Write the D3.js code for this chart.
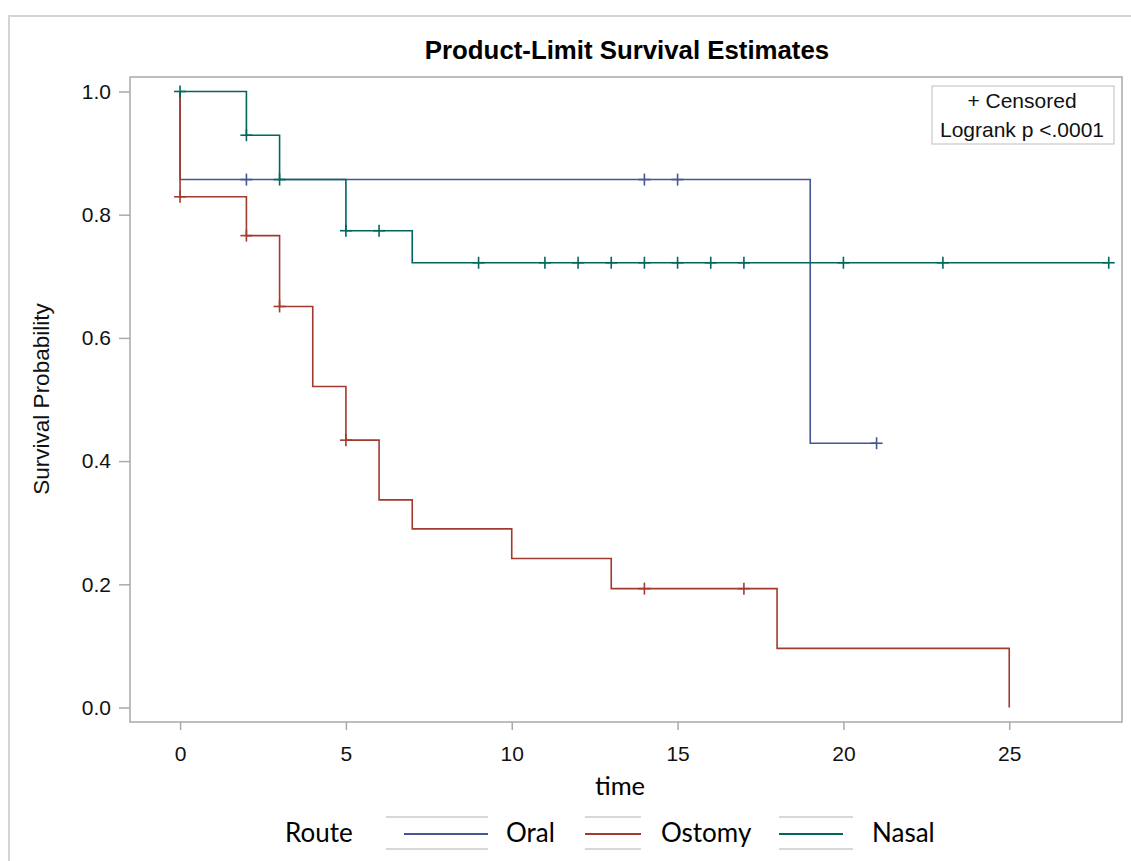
<!DOCTYPE html>
<html>
<head>
<meta charset="utf-8">
<script src="https://cdn.jsdelivr.net/npm/d3@7"></script>
<style>
  body { margin: 0; background: #fff; }
  svg { display: block; }
</style>
</head>
<body>
<div id="km_plot"></div>
<script>
// Kaplan-Meier step data
var groups = ["Oral", "Ostomy", "Nasal"];
var group_colours = ["#445694", "#A23A2E", "#01665E"];

var oral_time = [0, 0, 19, 21];
var oral_surv = [1.0, 0.857, 0.429, 0.429];
var oral_censor = [2, 14, 15, 21];

var ostomy_time = [0, 0, 2, 3, 4, 5, 6, 7, 10, 13, 18, 25];
var ostomy_surv = [1.0, 0.829, 0.766, 0.651, 0.521, 0.434, 0.337, 0.290, 0.242, 0.193, 0.096, 0.0];
var ostomy_censor = [0, 2, 3, 5, 14, 17];

var nasal_time = [0, 2, 3, 5, 7, 28];
var nasal_surv = [1.0, 0.929, 0.857, 0.774, 0.722, 0.722];
var nasal_censor = [0, 2, 3, 5, 6, 9, 11, 12, 13, 14, 15, 16, 17, 20, 23, 28];

var x_ticks = [0, 5, 10, 15, 20, 25];
var y_ticks = [0.0, 0.2, 0.4, 0.6, 0.8, 1.0];

var title_text = "Product-Limit Survival Estimates";
var inset_lines = ["+ Censored", "Logrank p <.0001"];

function createVis() {
	var series = [
		{name: groups[0], colour: group_colours[0], time: oral_time, surv: oral_surv, censor: oral_censor},
		{name: groups[1], colour: group_colours[1], time: ostomy_time, surv: ostomy_surv, censor: ostomy_censor},
		{name: groups[2], colour: group_colours[2], time: nasal_time, surv: nasal_surv, censor: nasal_censor}
	];

	var W = 1131, H = 861;
	var plot = {left: 130, right: 1122, top: 77, bottom: 722};

	var svg = d3.select("#km_plot").append("svg")
		.attr("width", W)
		.attr("height", H);

	// outer frame
	svg.append("rect")
		.attr("x", 9).attr("y", 16)
		.attr("width", W).attr("height", H)
		.attr("fill", "none")
		.attr("stroke", "#d4d4d4")
		.attr("stroke-width", 2);

	var x = d3.scaleLinear().domain([-1.51, 28.4]).range([plot.left, plot.right]);
	var y = d3.scaleLinear().domain([-0.0235, 1.0235]).range([plot.bottom, plot.top]);

	// title
	svg.append("text")
		.attr("x", 627).attr("y", 59)
		.attr("text-anchor", "middle")
		.attr("font-family", "Liberation Sans, Arial, sans-serif")
		.attr("font-weight", "bold")
		.attr("font-size", 25.8)
		.attr("fill", "#000")
		.text(title_text);

	// axes
	var xAxis = svg.append("g")
		.attr("transform", "translate(0," + plot.bottom + ")")
		.call(d3.axisBottom(x).tickValues(x_ticks).tickSize(8).tickPadding(16).tickFormat(d3.format("d")));
	var yAxis = svg.append("g")
		.attr("transform", "translate(" + plot.left + ",0)")
		.call(d3.axisLeft(y).tickValues(y_ticks).tickSize(11).tickPadding(8).tickFormat(d3.format(".1f")));

	[xAxis, yAxis].forEach(function(g) {
		g.select(".domain").remove();
		g.selectAll(".tick line").attr("stroke", "#a5aab0").attr("stroke-width", 1.5);
		g.selectAll(".tick text")
			.attr("font-family", "Liberation Sans, Arial, sans-serif")
			.attr("font-size", 21)
			.attr("fill", "#111");
	});

	// plot wall border
	svg.append("rect")
		.attr("x", plot.left).attr("y", plot.top)
		.attr("width", plot.right - plot.left)
		.attr("height", plot.bottom - plot.top)
		.attr("fill", "none")
		.attr("stroke", "#a5aab0")
		.attr("stroke-width", 1.5);

	// step curves
	var step = d3.line()
		.x(function(d) { return x(d[0]); })
		.y(function(d) { return y(d[1]); })
		.curve(d3.curveStepAfter);

	series.forEach(function(s) {
		var pts = s.time.map(function(t, i) { return [t, s.surv[i]]; });
		svg.append("path")
			.datum(pts)
			.attr("d", step)
			.attr("fill", "none")
			.attr("stroke", s.colour)
			.attr("stroke-width", 1.6);

		// censor marks (+)
		var marks = s.censor.map(function(t) {
			var idx = d3.bisectRight(s.time, t) - 1;
			return [t, s.surv[idx]];
		});
		var g = svg.append("g").attr("stroke", s.colour).attr("stroke-width", 1.6);
		g.selectAll("line.h").data(marks).enter().append("line")
			.attr("x1", function(d) { return x(d[0]) - 6; })
			.attr("x2", function(d) { return x(d[0]) + 6; })
			.attr("y1", function(d) { return y(d[1]); })
			.attr("y2", function(d) { return y(d[1]); });
		g.selectAll("line.v").data(marks).enter().append("line")
			.attr("x1", function(d) { return x(d[0]); })
			.attr("x2", function(d) { return x(d[0]); })
			.attr("y1", function(d) { return y(d[1]) - 6; })
			.attr("y2", function(d) { return y(d[1]) + 6; });
	});

	// inset box
	svg.append("rect")
		.attr("x", 932).attr("y", 86)
		.attr("width", 182).attr("height", 58)
		.attr("fill", "#fff")
		.attr("stroke", "#c8c8c8")
		.attr("stroke-width", 1.2);
	svg.selectAll("text.inset").data(inset_lines).enter().append("text")
		.attr("class", "inset")
		.attr("x", 1022)
		.attr("y", function(d, i) { return 108 + i * 29; })
		.attr("text-anchor", "middle")
		.attr("font-family", "Liberation Sans, Arial, sans-serif")
		.attr("font-size", 21)
		.attr("fill", "#111")
		.text(function(d) { return d; });

	// y axis label
	svg.append("text")
		.attr("transform", "translate(49,399) rotate(-90)")
		.attr("text-anchor", "middle")
		.attr("font-family", "Liberation Sans, Arial, sans-serif")
		.attr("font-size", 22.5)
		.attr("fill", "#111")
		.text("Survival Probability");

	// x axis label
	svg.append("text")
		.attr("x", 620).attr("y", 795)
		.attr("text-anchor", "middle")
		.attr("font-family", "Lato, sans-serif")
		.attr("font-size", 25.5)
		.attr("fill", "#000")
		.text("time");

	// bottom legend
	var legend_font = {family: "Lato, sans-serif", size: 26};
	svg.append("text")
		.attr("x", 285).attr("y", 842)
		.attr("font-family", legend_font.family)
		.attr("font-size", legend_font.size)
		.text("Route");

	var swatches = [
		{gx0: 386, gx1: 488, lx0: 404, lx1: 488, tx: 506},
		{gx0: 585, gx1: 641, lx0: 585, lx1: 641, tx: 661},
		{gx0: 779, gx1: 853, lx0: 779, lx1: 843, tx: 872}
	];
	series.forEach(function(s, i) {
		var sw = swatches[i];
		[817, 849].forEach(function(gy) {
			svg.append("line")
				.attr("x1", sw.gx0).attr("x2", sw.gx1)
				.attr("y1", gy).attr("y2", gy)
				.attr("stroke", "#d8d8d8")
				.attr("stroke-width", 2);
		});
		svg.append("line")
			.attr("x1", sw.lx0).attr("x2", sw.lx1)
			.attr("y1", 834).attr("y2", 834)
			.attr("stroke", s.colour)
			.attr("stroke-width", 2);
		svg.append("text")
			.attr("x", sw.tx).attr("y", 842)
			.attr("font-family", legend_font.family)
			.attr("font-size", legend_font.size)
			.text(s.name);
	});
}

createVis();
</script>
</body>
</html>
